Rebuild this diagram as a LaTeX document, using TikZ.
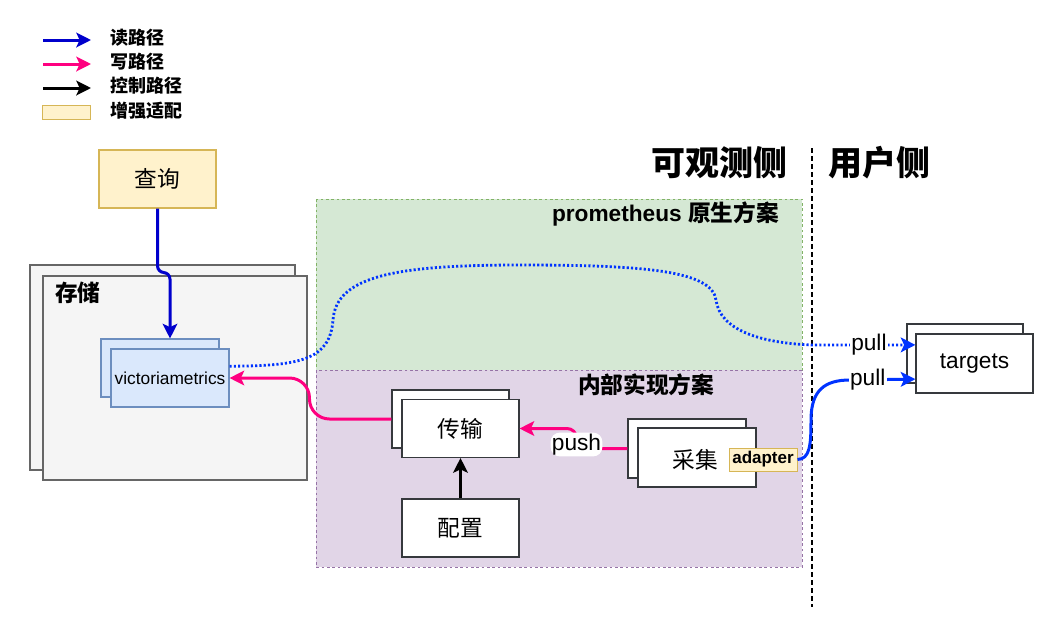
\documentclass[tikz,border=0pt]{standalone}
\usepackage{fontspec}
\setmainfont{Liberation Sans}
\newfontfamily\cjk{Noto Sans CJK SC}
\usetikzlibrary{arrows.meta,calc}
\definecolor{rblue}{HTML}{0000CC}
\definecolor{pblue}{HTML}{0033FF}
\definecolor{wpink}{HTML}{FF0080}
\definecolor{ylfill}{HTML}{FFF2CC}
\definecolor{yldraw}{HTML}{D6B656}
\definecolor{grfill}{HTML}{D5E8D4}
\definecolor{grdraw}{HTML}{82B366}
\definecolor{pufill}{HTML}{E1D5E7}
\definecolor{pudraw}{HTML}{9673A6}
\definecolor{gyfill}{HTML}{F5F5F5}
\definecolor{gydraw}{HTML}{666666}
\definecolor{blfill}{HTML}{DAE8FC}
\definecolor{bldraw}{HTML}{6C8EBF}
\definecolor{boxdraw}{HTML}{36393D}
\begin{document}
\begin{tikzpicture}[x=0.75pt,y=-0.75pt,
  tipst/.style={-{Stealth[length=11pt,width=11pt,inset=2.5pt]}},
  conn/.style={line width=2.25pt, tipst},
  wbox/.style={draw=boxdraw, fill=white, line width=0.8pt, minimum width=87.75pt, minimum height=43.5pt, inner sep=0pt},
  vbox/.style={draw=bldraw, fill=blfill, line width=0.8pt, minimum width=88.5pt, minimum height=43.5pt, inner sep=0pt},
  gbox/.style={draw=gydraw, fill=gyfill, line width=0.8pt, inner sep=0pt},
  region/.style={line width=0.75pt, dash pattern=on 2pt off 2pt},
  txt/.style={inner sep=0pt},
  cjkm/.style={font=\fontsize{17}{20}\selectfont\cjk},
  cjkmb/.style={font=\fontsize{17}{20}\selectfont\bfseries\cjk},
  cjkbig/.style={font=\fontsize{25.5}{30}\selectfont\bfseries\cjk},
  legtxt/.style={inner sep=0pt, anchor=west, font=\fontsize{13.5}{15}\selectfont\bfseries\cjk},
  lbl/.style={fill=white, inner sep=1pt, text=black, font=\fontsize{17}{20}\selectfont},
  dotline/.style={pblue, line width=2.1pt, dash pattern=on 1.6pt off 1.6pt, tipst}
]
% canvas
\fill[white] (0,0) rectangle (1042,618);
\useasboundingbox (0,0) rectangle (1042,618);

% regions
\filldraw[region, fill=grfill, draw=grdraw] (316,199) rectangle (802,370);
\filldraw[region, fill=pufill, draw=pudraw] (316,370) rectangle (802,567);
\node[txt, anchor=east, font=\fontsize{17}{20}\selectfont\bfseries] (promlbl) at (779,214) {prometheus {\cjk 原生方案}};
\node[txt, cjkmb] (innerlbl) at (646,385) {内部实现方案};

% separator
\coordinate (dtop) at (812,148);
\coordinate (dbot) at (812,607);
\draw[black, line width=1.2pt, dash pattern=on 3.5pt off 2.5pt] (dtop) -- (dbot);
\node[txt, cjkbig, anchor=east] (obs) at (788,163) {可观测侧};
\node[txt, cjkbig, anchor=west] (usr) at (828,163) {用户侧};

% legend
\coordinate (l1a) at (43,40);  \coordinate (l1b) at (91,40);
\coordinate (l2a) at (43,64);  \coordinate (l2b) at (91,64);
\coordinate (l3a) at (43,88);  \coordinate (l3b) at (91,88);
\draw[conn, rblue] (l1a) -- (l1b);
\draw[conn, wpink] (l2a) -- (l2b);
\draw[conn, black] (l3a) -- (l3b);
\node[draw=yldraw, fill=ylfill, line width=0.75pt, minimum width=36pt, minimum height=10.5pt, inner sep=0pt] (lg4) at (66,112) {};
\node[legtxt] (lt1) at (110,38) {读路径};
\node[legtxt] (lt2) at (110,62) {写路径};
\node[legtxt] (lt3) at (110,86) {控制路径};
\node[legtxt] (lt4) at (110,111) {增强适配};

% query
\node[draw=yldraw, fill=ylfill, line width=0.8pt, minimum width=87.75pt, minimum height=43.5pt, inner sep=0pt, cjkm] (qry) at (157.5,179) {查询};

% storage group
\node[gbox, minimum width=198.75pt, minimum height=153.75pt] (stb) at (162.5,367.5) {};
\node[gbox, minimum width=198pt, minimum height=153pt] (stf) at (175,378) {};
\node[txt, cjkmb, anchor=west] (stlbl) at (55,293) {存储};
\node[vbox] (vmb) at (160,368) {};
\node[vbox, font=\fontsize{13}{15}\selectfont] (vmf) at (170,378) {victoriametrics};

% inner boxes
\node[wbox] (ttb) at (450.5,419) {};
\node[wbox, cjkm] (ttf) at (460.5,428.5) {传输};
\node[wbox, cjkm] (pz) at (460.5,528) {配置};
\node[wbox, minimum width=88.5pt, minimum height=44.25pt] (cjb) at (687,448.5) {};
\node[wbox, minimum width=88.5pt, minimum height=44.25pt] (cjf) at (697,457.5) {};
\node[txt, cjkm] (cjtxt) at (695,460) {采集};
\node[draw=yldraw, fill=ylfill, line width=0.75pt, minimum width=51pt, minimum height=17.25pt, inner sep=0pt, font=\fontsize{12.75}{15}\selectfont\bfseries] (ad) at (763,459.5) {adapter};

% targets
\node[wbox, minimum width=87pt, minimum height=44.25pt] (tgb) at (965,353.5) {};
\node[wbox, minimum width=87.75pt, minimum height=44.25pt, font=\fontsize{17}{20}\selectfont] (tgf) at (974.5,363.5) {targets};

% connectors
\draw[conn, rblue, rounded corners=5pt] (qry.south) -- ++(0,64) -| (vmf.north |- vmb.north);
\draw[conn, wpink, rounded corners=15pt] (ttb.west) -- ++(-82,0) |- (vmf.east);
\draw[conn, wpink, rounded corners=7pt] (cjb.west) -- ++(-51,0) node[lbl, yshift=3pt] (pushlbl) {push} |- (ttf.east);
\draw[conn, black] (pz.north) -- (ttf.south);
\draw[dotline] ($(vmf.north east)!0.3!(vmf.south east)$)
  .. controls (300,366) and (330,360) .. (333,320)
  .. controls (336,275) and (400,265) .. (520,265)
  .. controls (640,265) and (712,270) .. (716,300)
  .. controls (720,330) and (760,343) .. (812,345)
  -- node[lbl, pos=0.55] (pull1) {pull} ($(tgf.north west)!0.19!(tgf.south west)$);
\draw[conn, pblue] (ad.east)
  .. controls (810,459) and (811,445) .. (811,420)
  .. controls (811,390) and (825,380) .. (850,380)
  -- node[lbl, pos=0.27] (pull2) {pull} ($(tgf.north west)!0.76!(tgf.south west)$);
\end{tikzpicture}
\end{document}
